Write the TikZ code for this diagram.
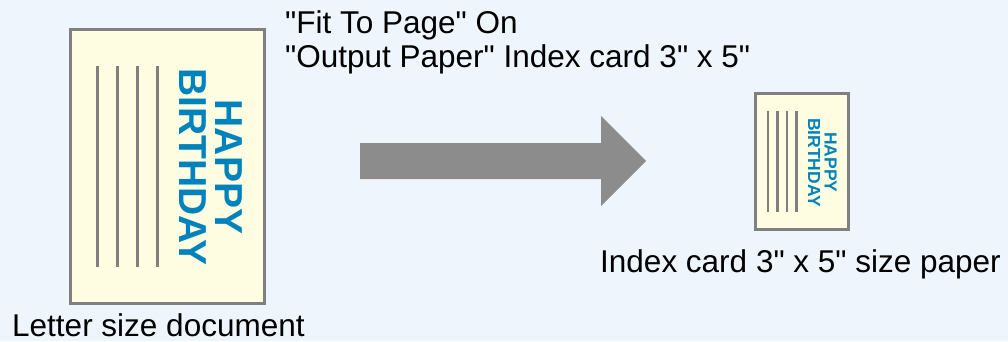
\documentclass[tikz,border=0pt]{standalone}
\usepackage{fontspec}
\setmainfont{Liberation Sans}[Ligatures=TeXOff]
\usetikzlibrary{positioning,calc}
\definecolor{bgblue}{HTML}{EEF5FC}
\definecolor{cardfill}{HTML}{FEFDE2}
\definecolor{cardgray}{HTML}{808080}
\definecolor{hbblue}{HTML}{0083BD}
\definecolor{arrowgray}{HTML}{8C8C8C}

\begin{document}
\begin{tikzpicture}[x=1pt,y=-1pt,
  card/.style={draw=cardgray, fill=cardfill, line width=3pt, inner sep=0pt},
  rule/.style={draw=cardgray, line width=3pt},
  bday/.style={text=hbblue, align=center, inner sep=0pt, rotate=-90},
  caption/.style={font=\fontsize{31.5}{33}\selectfont, inner sep=0pt, anchor=base west}]
\def\gap{20}
\def\sgap{9.5}

%Background:
\fill[bgblue] (0,0) rectangle (1008,341);
\useasboundingbox (0,0) rectangle (1008,341);

%Letter size card:
\node[card, minimum width=194pt, minimum height=274pt] (letterpage) at (167,166) {};
\foreach \i in {0,...,3}
  \draw[rule] (97+\gap*\i,66) -- +(0,201);
\node[bday, font=\fontsize{39}{36}\selectfont\bfseries] (bigtext) at (211,167) {HAPPY\\BIRTHDAY};

%Index card:
\node[card, minimum width=93pt, minimum height=136pt] (indexpage) at (801.5,161) {};
\foreach \i in {0,...,3}
  \draw[rule, line width=2.5pt] (768+\sgap*\i,111) -- +(0,101);
\node[bday, font=\fontsize{17.5}{16.5}\selectfont\bfseries] (smalltext) at (822.5,162.5) {HAPPY\\BIRTHDAY};

%Arrow:
\coordinate (A) at (360,161);
\coordinate (T) at (646,161);
\fill[arrowgray] ($(A)+(0,-18)$) -- (601,143) -- (601,116) -- (T) -- (601,206) -- (601,179) -- ($(A)+(0,18)$) -- cycle;

%Labels:
\node[caption] (fit) at (285,33) {"Fit To Page" On};
\node[caption] (outpaper) at (285,67) {"Output Paper" Index card 3" x 5"};
\node[caption] (idxlabel) at (600,272) {Index card 3" x 5" size paper};
\node[caption] (letterlabel) at (12,336) {Letter size document};
\end{tikzpicture}
\end{document}
